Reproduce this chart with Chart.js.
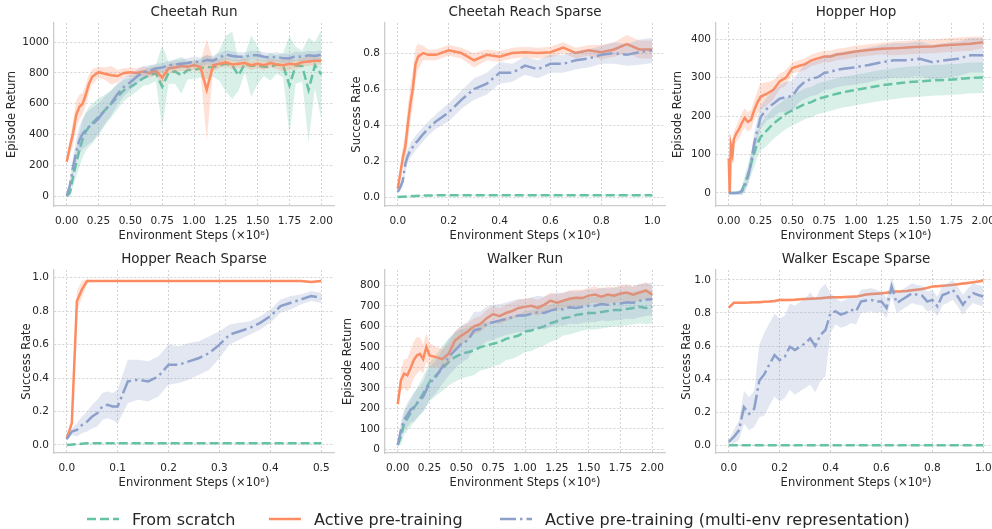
<!DOCTYPE html>
<html>
<head>
<meta charset="utf-8">
<script src="https://cdn.jsdelivr.net/npm/chart.js@4.4.0/dist/chart.umd.min.js"></script>
<style>
  body { margin: 0; background: #fff; width: 992px; height: 529px; overflow: hidden; position: relative; font-family: 'DejaVu Sans', sans-serif; }
  canvas { position: absolute; }
  .leg { position: absolute; top: 508px; height: 22px; display: flex; align-items: center; font-size: 16px; color: #262626; white-space: nowrap; }
  .leg svg { margin-right: 13px; }
</style>
</head>
<body>
<canvas id="c0" width="336" height="250" style="left:0px;top:0px"></canvas>
<canvas id="c1" width="336" height="250" style="left:331px;top:0px"></canvas>
<canvas id="c2" width="336" height="250" style="left:662px;top:0px"></canvas>
<canvas id="c3" width="336" height="250" style="left:0px;top:247px"></canvas>
<canvas id="c4" width="336" height="250" style="left:331px;top:247px"></canvas>
<canvas id="c5" width="336" height="250" style="left:662px;top:247px"></canvas>

<div class="leg" style="left:87px"><svg width="32" height="10"><line x1="0" y1="5" x2="32" y2="5" stroke="#66c2a5" stroke-width="2.5" stroke-dasharray="9 4"/></svg><span>From scratch</span></div>
<div class="leg" style="left:269px"><svg width="32" height="10"><line x1="0" y1="5" x2="32" y2="5" stroke="#fc8d62" stroke-width="2.5"/></svg><span>Active pre-training</span></div>
<div class="leg" style="left:500px"><svg width="32" height="10"><line x1="0" y1="5" x2="32" y2="5" stroke="#8da0cb" stroke-width="2.5" stroke-dasharray="16 4 2.5 4"/></svg><span>Active pre-training (multi-env representation)</span></div>

<script>
// ---- Cheetah Run ----
const cheetahRunSteps = [0,0.025,0.05,0.075,0.1,0.125,0.15,0.175,0.2,0.25,0.3,0.35,0.4,0.45,0.5,0.55,0.6,0.65,0.7,0.75,0.8,0.85,0.9,0.95,1.0,1.05,1.1,1.15,1.2,1.25,1.3,1.35,1.4,1.45,1.5,1.55,1.6,1.65,1.7,1.75,1.8,1.85,1.9,1.95,2.0];
const cheetahRunActive = [223,320,410,530,580,600,660,730,775,805,795,785,780,800,805,800,810,800,815,770,830,835,845,840,850,840,690,850,860,870,855,860,865,850,860,850,865,855,850,860,855,870,875,880,880];
const cheetahRunActiveSd = [20,50,80,90,80,70,70,60,50,35,40,60,40,30,30,30,30,30,30,45,30,30,30,30,30,30,330,40,30,30,30,30,30,30,30,30,30,30,40,40,30,30,30,30,25];
const cheetahRunMulti = [0,70,190,290,365,405,430,450,462,505,558,605,665,710,740,775,805,815,830,835,850,855,860,865,875,870,885,880,900,920,910,905,905,915,915,905,900,905,895,895,910,905,915,910,920];
const cheetahRunMultiSd = [10,40,60,80,90,100,110,110,110,100,90,80,70,60,50,45,40,35,30,30,30,30,30,30,30,30,30,30,30,30,30,30,30,30,30,30,30,30,30,30,30,30,30,30,30];
const cheetahRunScratch = [0,20,125,215,300,370,420,450,472,515,558,600,645,688,710,735,765,785,800,710,800,810,785,820,820,830,840,835,850,860,850,785,860,845,850,840,840,855,850,720,850,845,690,850,790];
const cheetahRunScratchSd = [5,30,60,90,110,120,125,130,130,120,100,90,80,70,60,55,50,60,50,270,70,80,120,60,60,60,80,60,100,180,220,100,60,200,120,60,90,60,80,320,120,100,340,150,290];

// ---- Cheetah Reach Sparse ----
const cheetahReachSteps = [0,0.01,0.02,0.03,0.04,0.05,0.06,0.07,0.08,0.1,0.12,0.15,0.2,0.25,0.3,0.35,0.4,0.45,0.5,0.55,0.6,0.65,0.7,0.75,0.8,0.85,0.9,0.95,1.0];
const cheetahReachActive = [0.046,0.13,0.22,0.28,0.41,0.52,0.61,0.74,0.78,0.80,0.79,0.79,0.815,0.80,0.76,0.79,0.78,0.80,0.805,0.80,0.805,0.83,0.80,0.815,0.805,0.82,0.85,0.82,0.82];
const cheetahReachActiveSd = [0.02,0.04,0.06,0.08,0.1,0.1,0.1,0.09,0.07,0.04,0.03,0.03,0.03,0.03,0.04,0.03,0.03,0.03,0.03,0.03,0.03,0.03,0.03,0.03,0.04,0.04,0.05,0.05,0.05];
const cheetahReachMulti = [0.028,0.055,0.09,0.185,0.23,0.26,0.28,0.30,0.315,0.35,0.38,0.42,0.47,0.54,0.60,0.63,0.69,0.69,0.73,0.71,0.74,0.74,0.76,0.77,0.79,0.80,0.79,0.805,0.815];
const cheetahReachMultiSd = [0.01,0.02,0.03,0.04,0.04,0.04,0.04,0.04,0.04,0.04,0.04,0.04,0.05,0.05,0.06,0.06,0.06,0.05,0.05,0.05,0.05,0.05,0.05,0.05,0.05,0.06,0.06,0.07,0.07];
const cheetahReachScratchSteps = [0,0.05,0.1,0.2,1.0];
const cheetahReachScratch = [0,0.004,0.008,0.01,0.01];

// ---- Hopper Hop ----
const hopperHopSteps = [0,0.008,0.016,0.03,0.04,0.06,0.08,0.1,0.125,0.15,0.175,0.2,0.225,0.25,0.3,0.35,0.4,0.45,0.5,0.55,0.6,0.65,0.7,0.75,0.8,0.85,0.9,0.95,1.0,1.1,1.2,1.3,1.4,1.5,1.6,1.7,1.8,1.9,2.0];
const hopperHopActive = [90,0,125,100,140,155,165,180,195,185,190,215,235,250,258,268,290,300,325,330,335,345,350,355,355,360,362,365,368,372,375,376,378,380,381,384,386,388,392];
const hopperHopActiveSd = [10,5,20,20,20,20,25,25,25,25,25,25,30,35,30,25,20,20,15,15,15,15,15,15,15,15,15,15,15,15,15,18,18,18,18,18,18,18,15];
const hopperHopMulti = [0,0,0,0,0,0,1,3,15,42,76,128,163,197,219,232,245,249,252,275,290,297,301,312,315,320,323,325,327,333,340,345,345,349,340,345,349,358,358];
const hopperHopMultiSd = [2,2,2,2,2,3,5,8,15,20,25,30,30,30,30,35,35,40,40,40,45,45,45,45,45,45,45,45,45,45,45,45,45,45,45,45,45,45,45];
const hopperHopScratch = [0,0,0,0,0,0,0,3,24,46,76,102,128,145,163,180,193,206,215,223,232,236,245,249,254,258,262,265,268,274,280,284,288,290,293,294,296,299,300];
const hopperHopScratchSd = [2,2,2,2,2,3,5,10,20,25,30,35,35,35,40,40,40,40,40,40,40,40,40,40,40,40,40,40,40,40,40,40,40,40,40,40,40,40,40];

// ---- Hopper Reach Sparse ----
const hopperReachSteps = [0,0.01,0.02,0.03,0.04,0.05,0.06,0.07,0.08,0.09,0.1,0.12,0.14,0.16,0.18,0.2,0.22,0.24,0.26,0.28,0.3,0.32,0.34,0.36,0.38,0.4,0.42,0.44,0.46,0.48,0.5];
const hopperReachActive = [0.04,0.13,0.86,0.93,0.98,0.98,0.98,0.98,0.98,0.98,0.98,0.98,0.98,0.98,0.98,0.98,0.98,0.98,0.98,0.98,0.98,0.98,0.98,0.98,0.98,0.98,0.98,0.98,0.98,0.975,0.98];
const hopperReachActiveSd = [0.01,0.02,0.06,0.05,0.01,0.005,0.005,0.005,0.005,0.005,0.005,0.005,0.005,0.005,0.005,0.005,0.005,0.005,0.005,0.005,0.005,0.005,0.005,0.005,0.005,0.005,0.005,0.005,0.005,0.005,0.005];
const hopperReachMulti = [0.035,0.08,0.09,0.12,0.14,0.17,0.19,0.23,0.24,0.23,0.23,0.38,0.39,0.38,0.41,0.48,0.48,0.50,0.52,0.55,0.60,0.66,0.68,0.70,0.73,0.77,0.83,0.85,0.87,0.89,0.88];
const hopperReachMultiSd = [0.01,0.02,0.04,0.05,0.06,0.07,0.08,0.08,0.08,0.08,0.1,0.13,0.12,0.12,0.12,0.12,0.11,0.11,0.1,0.1,0.08,0.06,0.05,0.04,0.04,0.04,0.04,0.04,0.03,0.03,0.03];
const hopperReachScratchSteps = [0,0.02,0.04,0.5];
const hopperReachScratch = [0,0.005,0.01,0.01];

// ---- Walker Run ----
const walkerRunSteps = [0,0.025,0.05,0.075,0.1,0.125,0.15,0.175,0.2,0.225,0.25,0.3,0.35,0.4,0.45,0.5,0.55,0.6,0.65,0.7,0.75,0.8,0.85,0.9,0.95,1.0,1.05,1.1,1.15,1.2,1.25,1.3,1.35,1.4,1.45,1.5,1.55,1.6,1.65,1.7,1.75,1.8,1.85,1.9,1.95,2.0];
const walkerRunActive = [220,337,369,361,394,434,458,466,440,499,458,450,440,466,531,555,575,600,612,640,660,650,665,675,690,695,700,690,705,725,715,725,735,740,738,750,755,745,755,750,760,765,755,765,775,755];
const walkerRunActiveSd = [10,50,70,80,90,90,90,80,70,70,60,50,50,50,45,45,40,40,40,40,40,40,40,40,40,40,40,40,40,40,40,40,40,40,40,40,40,40,40,40,40,40,40,40,40,40];
const walkerRunMulti = [21,94,143,167,191,205,223,240,256,290,321,353,402,450,483,515,531,580,588,612,620,628,636,645,653,653,661,669,665,677,685,683,693,690,695,701,700,709,705,710,712,717,715,725,730,733];
const walkerRunMultiSd = [5,40,50,60,60,70,70,70,75,80,80,80,85,90,90,90,90,90,85,85,85,80,80,80,80,80,80,80,80,80,80,80,80,80,80,80,80,80,80,80,80,80,80,80,80,80];
const walkerRunScratch = [21,62,126,150,175,200,223,248,272,300,329,361,394,426,450,466,474,483,499,507,515,523,539,547,555,575,580,590,600,615,625,640,645,655,660,665,665,670,675,680,680,685,690,695,690,695];
const walkerRunScratchSd = [5,40,55,60,65,70,75,80,85,90,95,100,110,115,120,120,120,120,115,115,110,110,105,105,100,100,100,95,95,90,90,85,85,85,80,80,80,80,80,80,80,80,80,80,80,80];

// ---- Walker Escape Sparse ----
const walkerEscapeSteps = [0,0.02,0.04,0.06,0.08,0.1,0.12,0.14,0.16,0.18,0.2,0.22,0.24,0.26,0.28,0.3,0.32,0.34,0.36,0.38,0.4,0.42,0.44,0.46,0.48,0.5,0.52,0.54,0.56,0.58,0.6,0.62,0.64,0.66,0.68,0.7,0.72,0.74,0.76,0.78,0.8,0.82,0.84,0.86,0.88,0.9,0.92,0.94,0.96,0.98,1.0];
const walkerEscapeActive = [0.832,0.862,0.862,0.862,0.863,0.865,0.865,0.868,0.869,0.872,0.879,0.878,0.879,0.88,0.883,0.885,0.886,0.888,0.889,0.892,0.895,0.895,0.895,0.897,0.898,0.899,0.905,0.912,0.915,0.917,0.919,0.922,0.928,0.93,0.931,0.933,0.937,0.941,0.945,0.952,0.96,0.962,0.964,0.967,0.97,0.974,0.978,0.982,0.986,0.99,0.996];
const walkerEscapeMulti = [0.02,0.05,0.09,0.23,0.19,0.22,0.39,0.43,0.49,0.545,0.515,0.535,0.596,0.576,0.596,0.616,0.646,0.60,0.667,0.697,0.80,0.81,0.79,0.80,0.82,0.81,0.87,0.875,0.879,0.87,0.869,0.83,0.96,0.86,0.88,0.899,0.92,0.91,0.905,0.869,0.879,0.84,0.909,0.92,0.94,0.899,0.85,0.89,0.92,0.909,0.90];
const walkerEscapeMultiSd = [0.01,0.04,0.06,0.1,0.1,0.11,0.22,0.25,0.25,0.25,0.25,0.25,0.26,0.27,0.27,0.27,0.28,0.28,0.28,0.28,0.12,0.08,0.08,0.08,0.08,0.08,0.07,0.07,0.07,0.07,0.06,0.06,0.06,0.06,0.06,0.06,0.06,0.06,0.06,0.06,0.06,0.06,0.06,0.06,0.06,0.06,0.06,0.06,0.06,0.06,0.06];
const walkerEscapeScratchSteps = [0,1.0];
const walkerEscapeScratch = [0,0];

// ---- tick labels ----
const ticks2M = [0,0.25,0.5,0.75,1.0,1.25,1.5,1.75,2.0];
const ticks1M = [0,0.2,0.4,0.6,0.8,1.0];
const ticksHalfM = [0,0.1,0.2,0.3,0.4,0.5];
const ticksReturn1000 = [0,200,400,600,800,1000];
const ticksReturn400 = [0,100,200,300,400];
const ticksReturn800 = [0,100,200,300,400,500,600,700,800];
const ticksRate08 = [0,0.2,0.4,0.6,0.8];
const ticksRate10 = [0,0.2,0.4,0.6,0.8,1.0];

Chart.defaults.font.family = "'DejaVu Sans', sans-serif";
Chart.defaults.color = '#262626';

const GREEN = '#66c2a5', ORANGE = '#fc8d62', BLUE = '#8da0cb';
const GREEN_BAND = 'rgba(102,194,165,0.25)', ORANGE_BAND = 'rgba(252,141,98,0.25)', BLUE_BAND = 'rgba(141,160,203,0.25)';

function pts(xs, ys, sd, k) {
  return xs.map((x, i) => ({x: x, y: ys[i] + k * (Array.isArray(sd) ? sd[i] : sd)}));
}

function makePanel(id, p) {
  const series = [
    [p.multi, BLUE, BLUE_BAND, [16, 4, 2.5, 4]],
    [p.active, ORANGE, ORANGE_BAND, []],
    [p.scratch, GREEN, GREEN_BAND, [9, 4]]
  ];
  const datasets = [];
  // index 0 is drawn on top, so the list goes top -> bottom
  series.forEach(([s, col, band, dash]) => {
    const hi = datasets.length + 1;
    datasets.push({data: pts(s.x, s.y, 0, 0), borderColor: col, borderWidth: 2.5, borderDash: dash, pointRadius: 0, fill: false, tension: 0});
    datasets.push({data: pts(s.x, s.y, s.sd, 1), borderColor: 'rgba(0,0,0,0)', borderWidth: 0, pointRadius: 0, fill: false});
    datasets.push({data: pts(s.x, s.y, s.sd, -1), borderColor: 'rgba(0,0,0,0)', borderWidth: 0, pointRadius: 0, fill: hi, backgroundColor: band});
  });

  new Chart(document.getElementById(id), {
    type: 'line',
    data: {datasets: datasets},
    options: {
      responsive: false,
      animation: false,
      devicePixelRatio: 1,
      layout: {padding: {left: 0, right: 2, top: 0, bottom: 0}, autoPadding: false},
      plugins: {
        legend: {display: false},
        tooltip: {enabled: false},
        title: {display: true, text: p.title, fullSize: false, color: '#262626',
                font: {size: 13.5, weight: 'normal'}, padding: {top: 4.5, bottom: 2.3}}
      },
      scales: {
        x: {
          type: 'linear', min: p.xMin, max: p.xMax, bounds: 'data',
          afterBuildTicks: s => { s.ticks = p.xTicks.map(v => ({value: v})); },
          afterFit: s => { s.height = 44; s.paddingLeft = 0; s.paddingRight = 0; },
          ticks: {autoSkip: false, maxRotation: 0, padding: 8.5, color: '#262626', font: {size: 10.5},
                  callback: v => v.toFixed(p.xDec)},
          grid: {color: '#cfcfcf', lineWidth: 0.9, drawTicks: false},
          border: {display: true, color: '#cccccc', width: 1.3, dash: [2, 2]},
          title: {display: true, text: 'Environment Steps (×10⁶)', color: '#262626', font: {size: 11.5},
                  padding: {top: 0, bottom: 6.6}}
        },
        y: {
          type: 'linear', min: p.yMin, max: p.yMax, bounds: 'data',
          afterBuildTicks: s => { s.ticks = p.yTicks.map(v => ({value: v})); },
          afterFit: s => { s.width = 54; s.paddingTop = 0; s.paddingBottom = 0; },
          ticks: {autoSkip: false, padding: 5, color: '#262626', font: {size: 10.5},
                  callback: v => v.toFixed(p.yDec)},
          grid: {color: '#cfcfcf', lineWidth: 0.9, drawTicks: false},
          border: {display: true, color: '#cccccc', width: 1.3, dash: [2, 2]},
          title: {display: true, text: p.yLabel, color: '#262626', font: {size: 11.5},
                  padding: {top: p.yPad, bottom: 0}}
        }
      }
    }
  });
}

makePanel('c0', {
  title: 'Cheetah Run', yLabel: 'Episode Return', yPad: 5.6,
  xMin: -0.1, xMax: 2.1, xTicks: ticks2M, xDec: 2,
  yMin: -65, yMax: 1125, yTicks: ticksReturn1000, yDec: 0,
  multi: {x: cheetahRunSteps, y: cheetahRunMulti, sd: cheetahRunMultiSd},
  active: {x: cheetahRunSteps, y: cheetahRunActive, sd: cheetahRunActiveSd},
  scratch: {x: cheetahRunSteps, y: cheetahRunScratch, sd: cheetahRunScratchSd}
});
makePanel('c1', {
  title: 'Cheetah Reach Sparse', yLabel: 'Success Rate', yPad: 19.1,
  xMin: -0.05, xMax: 1.05, xTicks: ticks1M, xDec: 1,
  yMin: -0.05, yMax: 0.967, yTicks: ticksRate08, yDec: 1,
  multi: {x: cheetahReachSteps, y: cheetahReachMulti, sd: cheetahReachMultiSd},
  active: {x: cheetahReachSteps, y: cheetahReachActive, sd: cheetahReachActiveSd},
  scratch: {x: cheetahReachScratchSteps, y: cheetahReachScratch, sd: 0.003}
});
makePanel('c2', {
  title: 'Hopper Hop', yLabel: 'Episode Return', yPad: 9.1,
  xMin: -0.1, xMax: 2.1, xTicks: ticks2M, xDec: 2,
  yMin: -34, yMax: 442, yTicks: ticksReturn400, yDec: 0,
  multi: {x: hopperHopSteps, y: hopperHopMulti, sd: hopperHopMultiSd},
  active: {x: hopperHopSteps, y: hopperHopActive, sd: hopperHopActiveSd},
  scratch: {x: hopperHopSteps, y: hopperHopScratch, sd: hopperHopScratchSd}
});
makePanel('c3', {
  title: 'Hopper Reach Sparse', yLabel: 'Success Rate', yPad: 19.8,
  xMin: -0.025, xMax: 0.525, xTicks: ticksHalfM, xDec: 1,
  yMin: -0.048, yMax: 1.046, yTicks: ticksRate10, yDec: 1,
  multi: {x: hopperReachSteps, y: hopperReachMulti, sd: hopperReachMultiSd},
  active: {x: hopperReachSteps, y: hopperReachActive, sd: hopperReachActiveSd},
  scratch: {x: hopperReachScratchSteps, y: hopperReachScratch, sd: 0.003}
});
makePanel('c4', {
  title: 'Walker Run', yLabel: 'Episode Return', yPad: 10.1,
  xMin: -0.1, xMax: 2.1, xTicks: ticks2M, xDec: 2,
  yMin: -18, yMax: 875, yTicks: ticksReturn800, yDec: 0,
  multi: {x: walkerRunSteps, y: walkerRunMulti, sd: walkerRunMultiSd},
  active: {x: walkerRunSteps, y: walkerRunActive, sd: walkerRunActiveSd},
  scratch: {x: walkerRunSteps, y: walkerRunScratch, sd: walkerRunScratchSd}
});
makePanel('c5', {
  title: 'Walker Escape Sparse', yLabel: 'Success Rate', yPad: 18.1,
  xMin: -0.05, xMax: 1.05, xTicks: ticks1M, xDec: 1,
  yMin: -0.047, yMax: 1.06, yTicks: ticksRate10, yDec: 1,
  multi: {x: walkerEscapeSteps, y: walkerEscapeMulti, sd: walkerEscapeMultiSd},
  active: {x: walkerEscapeSteps, y: walkerEscapeActive, sd: 0.008},
  scratch: {x: walkerEscapeScratchSteps, y: walkerEscapeScratch, sd: 0.003}
});
</script>
</body>
</html>
